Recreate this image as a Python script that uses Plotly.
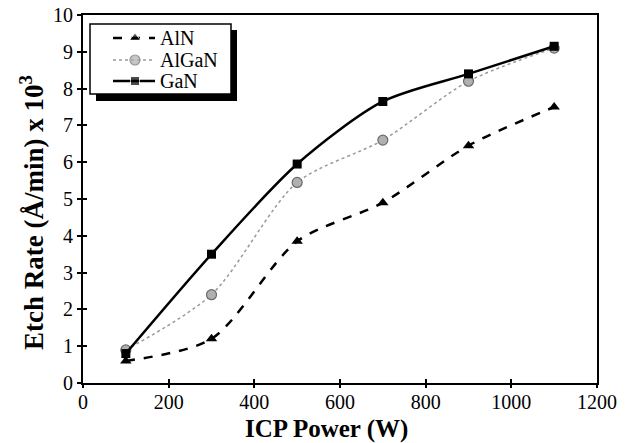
import plotly.graph_objects as go

power = [100, 300, 500, 700, 900, 1100]
aln = [0.6, 1.2, 3.85, 4.9, 6.45, 7.5]
algan = [0.9, 2.4, 5.45, 6.6, 8.2, 9.1]
gan = [0.8, 3.5, 5.95, 7.65, 8.4, 9.15]

series_names = ["AlN", "AlGaN", "GaN"]
x_ticks = [0, 200, 400, 600, 800, 1000, 1200]
y_ticks = list(range(0, 11))
x_title = "<b>ICP Power (W)</b>"
y_title = "<b>Etch Rate (Å/min) x 10<sup>3</sup></b>"

serif = "Liberation Serif, Times New Roman, serif"

styles = {
    "AlN": dict(line=dict(color="black", width=2.5, dash="dash"),
                marker=dict(symbol="triangle-up", size=10, color="black")),
    "AlGaN": dict(line=dict(color="#9a9a9a", width=1.5, dash="dot"),
                  marker=dict(symbol="circle", size=10, color="#b0b0b0",
                              line=dict(color="#6a6a6a", width=1.2))),
    "GaN": dict(line=dict(color="black", width=2.5),
                marker=dict(symbol="square", size=9, color="black")),
}

fig = go.Figure()
for name, ys in zip(series_names, [aln, algan, gan]):
    fig.add_trace(go.Scatter(x=power, y=ys, name=name, mode="lines+markers",
                             line_shape="spline", line_smoothing=0.8,
                             showlegend=False, **styles[name]))

# ---- hand-drawn legend (paper fractions of plot area) ----
def px(xp):
    return (xp - 83) / 514

def py(yp):
    return (383 - yp) / 368

fig.add_shape(type="rect", xref="paper", yref="paper",
              x0=px(96), x1=px(237), y0=py(101), y1=py(30),
              fillcolor="black", line=dict(width=0), layer="below")
fig.add_shape(type="rect", xref="paper", yref="paper",
              x0=px(90), x1=px(231), y0=py(94), y1=py(24),
              fillcolor="white", line=dict(color="black", width=1.5), layer="below")

rows = [38, 60, 81]
for name, r in zip(series_names, rows):
    st = styles[name]
    mk = dict(st["marker"])
    mk["size"] = [0, mk["size"], 0]
    fig.add_trace(go.Scatter(x=[px(113), px(135), px(155)], y=[py(r)] * 3,
                             mode="lines+markers", line=st["line"], marker=mk,
                             xaxis="x3", yaxis="y3", showlegend=False,
                             hoverinfo="skip", cliponaxis=False))
    fig.add_annotation(text=name, xref="paper", yref="paper", x=px(158), y=py(r),
                       xanchor="left", yanchor="middle", showarrow=False,
                       font=dict(family=serif, size=20, color="black"))

# axis titles as annotations (positioned like the reference)
fig.add_annotation(text=x_title, xref="paper", yref="paper", x=px(326), y=py(429),
                   xanchor="center", yanchor="middle", showarrow=False,
                   font=dict(family=serif, size=25, color="black"))
fig.add_annotation(text=y_title, xref="paper", yref="paper", x=px(32), y=py(213),
                   xanchor="center", yanchor="middle", showarrow=False, textangle=-90,
                   font=dict(family=serif, size=27, color="black"))

axis_common = dict(tickwidth=1.5, tickcolor="black", showgrid=False, zeroline=False,
                   automargin=False)

fig.update_layout(
    width=627, height=435,
    margin=dict(l=75, r=38, t=7, b=60),
    paper_bgcolor="white", plot_bgcolor="white",
    font=dict(family=serif, color="black", size=20),
    showlegend=False,
    xaxis=dict(range=[0, 1200], tickvals=x_ticks, ticks="inside", ticklen=4,
               showline=True, linecolor="black", linewidth=2, mirror=True,
               tickfont=dict(size=20), ticklabeloverflow="allow",
               **axis_common),
    yaxis=dict(range=[0, 10], tickvals=y_ticks, ticks="outside", ticklen=4,
               showline=True, linecolor="black", linewidth=2, mirror=True,
               tickfont=dict(size=20), ticklabeloverflow="allow",
               **axis_common),
    xaxis2=dict(range=[0, 1200], tickvals=x_ticks, ticks="outside", ticklen=4,
                showticklabels=False, overlaying="x", side="bottom", matches="x",
                **axis_common),
    yaxis2=dict(range=[0, 10], tickvals=y_ticks, ticks="inside", ticklen=4,
                showticklabels=False, overlaying="y", side="left", matches="y",
                **axis_common),
    xaxis3=dict(range=[0, 1], overlaying="x", visible=False, fixedrange=True,
                showgrid=False, zeroline=False),
    yaxis3=dict(range=[0, 1], overlaying="y", visible=False, fixedrange=True,
                showgrid=False, zeroline=False),
)
fig.add_trace(go.Scatter(x=[None], y=[None], xaxis="x2", yaxis="y2",
                         showlegend=False, hoverinfo="skip"))

fig.write_html("out.html")
